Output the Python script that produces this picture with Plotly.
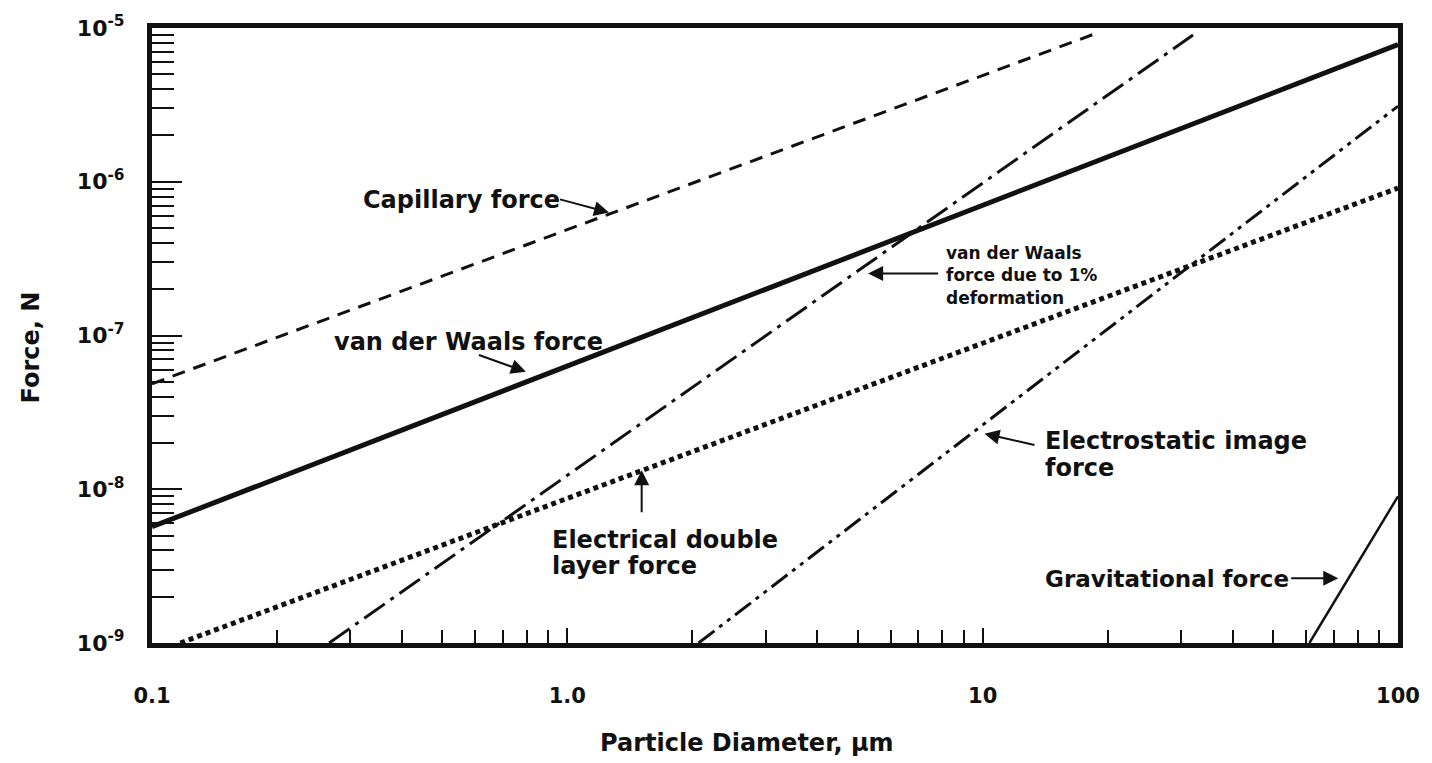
import math
import plotly.graph_objects as go

# ---- data (log-log) ----
cap_d = [0.1, 18.7]
cap_f = [4.85e-8, 9.2e-6]

vdw_d = [0.1, 100]
vdw_f = [5.7e-9, 7.8e-6]

def1_d = [0.267, 32.1]
def1_f = [1.0e-9, 9.0e-6]

img_d = [2.07, 100]
img_f = [1.0e-9, 3.1e-6]

edl_d = [0.117, 100]
edl_f = [1.0e-9, 9.1e-7]

grav_d = [61.2, 100]
grav_f = [1.0e-9, 9.0e-9]

x_tickvals = [0.1, 1, 10, 100]
x_ticktext = ["0.1", "1.0", "10", "100"]
y_tickvals = [1e-9, 1e-8, 1e-7, 1e-6, 1e-5]
y_ticktext = ["10<sup>-9</sup>", "10<sup>-8</sup>", "10<sup>-7</sup>",
              "10<sup>-6</sup>", "10<sup>-5</sup>"]

FONT = "DejaVu Sans"
BLACK = "#111111"

def minor_vals(lo_exp, hi_exp):
    vals = []
    for e in range(lo_exp, hi_exp):
        for m in range(2, 10):
            vals.append(m * 10.0 ** e)
    return vals

fig = go.Figure()
fig.add_trace(go.Scatter(x=cap_d, y=cap_f, mode="lines",
                         line=dict(color=BLACK, width=3, dash="13px,9px")))
fig.add_trace(go.Scatter(x=vdw_d, y=vdw_f, mode="lines",
                         line=dict(color=BLACK, width=5)))
fig.add_trace(go.Scatter(x=def1_d, y=def1_f, mode="lines",
                         line=dict(color=BLACK, width=3, dash="25px,7px,4px,7px")))
fig.add_trace(go.Scatter(x=img_d, y=img_f, mode="lines",
                         line=dict(color=BLACK, width=3,
                                   dash="20px,6px,4px,6px,4px,6px")))
fig.add_trace(go.Scatter(x=edl_d, y=edl_f, mode="lines",
                         line=dict(color=BLACK, width=5, dash="5px,4px")))
fig.add_trace(go.Scatter(x=grav_d, y=grav_f, mode="lines",
                         line=dict(color=BLACK, width=2.5)))

fig.update_xaxes(type="log", range=[-1, 2],
                 tickmode="array", tickvals=x_tickvals, ticktext=x_ticktext,
                 ticks="inside", ticklen=15, tickwidth=2, tickcolor=BLACK,
                 showline=True, linewidth=5, linecolor=BLACK, mirror=True,
                 showgrid=False, zeroline=False,
                 ticklabelstandoff=30,
                 tickfont=dict(family=FONT, size=21, color=BLACK, weight="bold"),
                 minor=dict(tickmode="array", tickvals=minor_vals(-1, 2),
                            ticks="inside", ticklen=13, tickwidth=2,
                            tickcolor=BLACK, showgrid=False))
fig.update_yaxes(type="log", range=[-9, -5],
                 tickmode="array", tickvals=y_tickvals, ticktext=y_ticktext,
                 ticks="inside", ticklen=30, tickwidth=2, tickcolor=BLACK,
                 showline=True, linewidth=5, linecolor=BLACK, mirror=True,
                 showgrid=False, zeroline=False,
                 ticklabelstandoff=18,
                 tickfont=dict(family=FONT, size=22, color=BLACK, weight="bold"),
                 minor=dict(tickmode="array", tickvals=minor_vals(-9, -5),
                            ticks="inside", ticklen=22, tickwidth=2,
                            tickcolor=BLACK, showgrid=False))

L, R, T, B = 152, 27, 16, 120
W, H = 1432, 763
PW, PH = W - L - R, H - T - B

def px(xp):
    return (xp - L) / PW

def py(yp):
    return (H - B - yp) / PH

ann = []

def text(s, xp, yp, size=24):
    ann.append(dict(text=s, xref="paper", yref="paper", x=px(xp), y=py(yp),
                    xanchor="left", yanchor="middle", showarrow=False,
                    font=dict(family=FONT, size=size, color=BLACK,
                              weight="bold")))

def arrow(xd, yd, ax, ay):
    # annotation positions on log axes are given in log10 units
    ann.append(dict(text=" ", x=math.log10(xd), y=math.log10(yd),
                    xref="x", yref="y",
                    ax=ax, ay=ay, showarrow=True, arrowhead=2, arrowsize=1.5,
                    arrowwidth=2, arrowcolor=BLACK, standoff=0, startstandoff=0))

# labels
text("Capillary force", 362, 191)
text("van der Waals force", 333, 336)
text("van der Waals", 948, 245, 17)
text("force due to 1%", 948, 268, 17)
text("deformation", 948, 291, 17)
text("Electrostatic image", 1048, 437)
text("force", 1048, 465)
text("Electrical double", 552, 538)
text("layer force", 552, 565)
text("Gravitational force", 1048, 578, 23)

# arrows (head in data coords, tail offset in pixels)
arrow(1.26, 6.3e-7, -52, -14)
arrow(0.795, 5.8e-8, -50, -18)
arrow(5.3, 2.53e-7, 73, 0)
arrow(10.1, 2.3e-8, 53, 12)
arrow(1.51, 1.33e-8, 0, 52)
arrow(71.8, 2.64e-9, -50, 0)

# axis titles
ann.append(dict(text="Particle Diameter, μm", xref="paper", yref="paper",
                x=px(750), y=py(745), xanchor="center", yanchor="middle",
                showarrow=False, font=dict(family=FONT, size=24, color=BLACK,
                                           weight="bold")))
ann.append(dict(text="Force, N", xref="paper", yref="paper",
                x=px(30), y=py(342), xanchor="center", yanchor="middle",
                textangle=-90, showarrow=False,
                font=dict(family=FONT, size=24, color=BLACK, weight="bold")))

fig.update_layout(width=W, height=H, showlegend=False,
                  margin=dict(l=L, r=R, t=T, b=B),
                  paper_bgcolor="white", plot_bgcolor="white",
                  annotations=ann)

fig.write_html("out.html")
